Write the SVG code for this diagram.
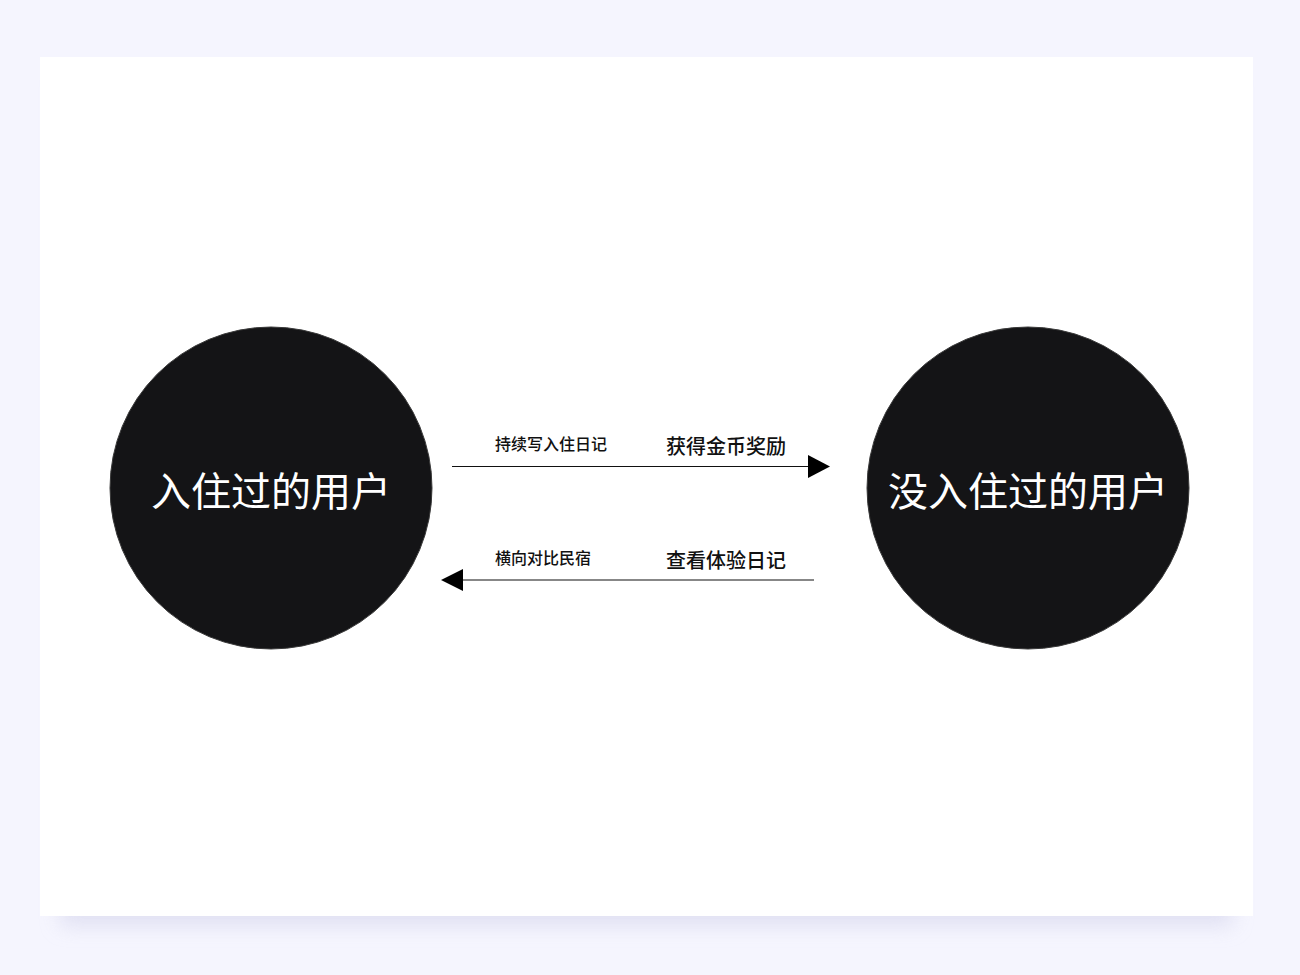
<svg xmlns="http://www.w3.org/2000/svg" width="1300" height="975" viewBox="0 0 1300 975">
<defs>
<filter id="blur" x="-5%" y="-10%" width="110%" height="130%">
<feGaussianBlur stdDeviation="10"/>
</filter>
<style>
.node{fill:#141416;stroke:#3a3a3a;stroke-width:1}
.big{font-family:"Noto Sans CJK SC","Noto Sans",sans-serif;font-size:40px;fill:#ffffff;text-anchor:middle;dominant-baseline:central}
.sm{font-family:"Noto Sans CJK SC","Noto Sans",sans-serif;font-size:16px;font-weight:500;fill:#111111}
.md{font-family:"Noto Sans CJK SC","Noto Sans",sans-serif;font-size:20px;font-weight:500;fill:#111111}
.ln{stroke:#111111;stroke-width:1.2;fill:none}
</style>
</defs>
<rect width="1300" height="975" fill="#f5f5fe"/>
<rect x="60" y="80" width="1173" height="846" fill="#dcdcf0" opacity="0.8" filter="url(#blur)"/>
<rect x="40" y="57" width="1213" height="859" fill="#ffffff"/>
<g id="node-left">
<circle class="node" cx="271" cy="488" r="161"/>
<text class="big" x="271" y="489">入住过的用户</text>
</g>
<g id="node-right">
<circle class="node" cx="1028" cy="488" r="161"/>
<text class="big" x="1028" y="489">没入住过的用户</text>
</g>
<g id="connectors">
<line class="ln" x1="452" y1="466.5" x2="810" y2="466.5"/>
<polygon points="808,455 830,466.5 808,478" fill="#000"/>
<line class="ln" x1="814" y1="580" x2="461" y2="580"/>
<polygon points="463,569 441,580 463,591" fill="#000"/>
</g>
<g id="labels">
<text class="sm" x="495" y="450">持续写入住日记</text>
<text class="md" x="666" y="454">获得金币奖励</text>
<text class="sm" x="495" y="564">横向对比民宿</text>
<text class="md" x="666" y="568">查看体验日记</text>
</g>
</svg>
